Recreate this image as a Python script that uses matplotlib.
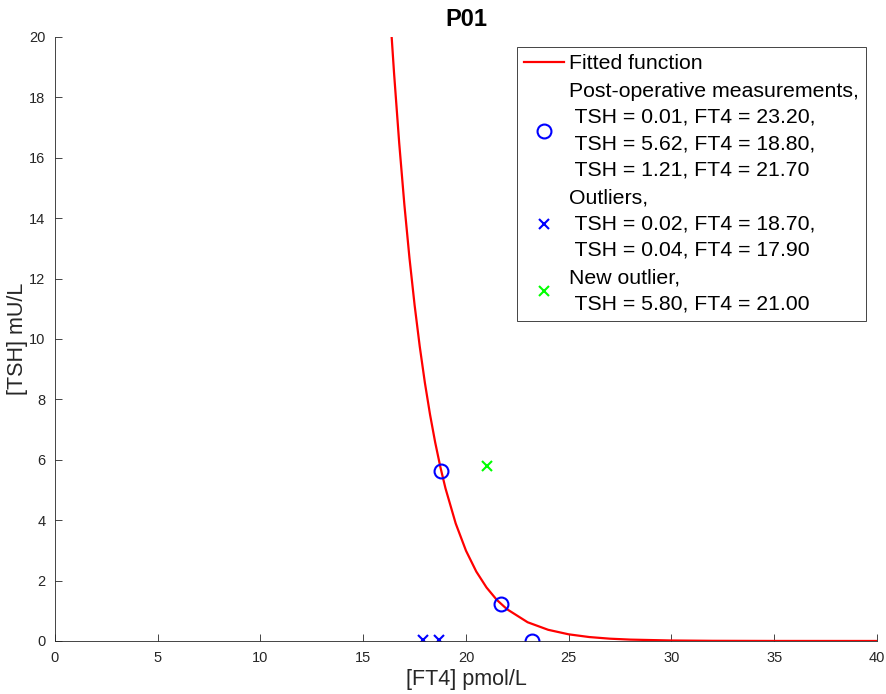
import matplotlib
matplotlib.use("Agg")
import matplotlib.pyplot as plt

plt.rcParams['font.family'] = ['Liberation Sans', 'DejaVu Sans']

# fitted curve
fit_ft4 = [16.35, 16.5, 16.75, 17.0, 17.25, 17.5, 17.75, 18.0, 18.25, 18.5, 18.75,
           19.0, 19.5, 20.0, 20.5, 21.0, 21.5, 22.0, 23.0, 24.0, 25.0, 26.0, 27.0,
           28.0, 30.0, 32.0, 35.0, 40.0]
fit_tsh = [20.34, 18.80, 16.49, 14.46, 12.68, 11.12, 9.75, 8.55, 7.50, 6.58, 5.77,
           5.06, 3.89, 2.99, 2.30, 1.77, 1.36, 1.05, 0.62, 0.37, 0.22, 0.13, 0.076,
           0.045, 0.016, 0.0055, 0.0011, 0.0001]

# measurements
post_tsh = [0.01, 5.62, 1.21]
post_ft4 = [23.20, 18.80, 21.70]
out_tsh = [0.02, 0.04]
out_ft4 = [18.70, 17.90]
new_tsh = [5.80]
new_ft4 = [21.00]

def make_label(title, tsh, ft4):
    rows = [" TSH = %.2f, FT4 = %.2f" % (t, f) for t, f in zip(tsh, ft4)]
    return title + ",\n" + ",\n".join(rows)

fig = plt.figure(figsize=(8.87, 6.94), dpi=100)
ax = fig.add_axes([0.062, 0.0764, 0.9267, 0.8703])

ax.plot(fit_ft4, fit_tsh, color='red', lw=1.6, label='Fitted function')
ax.plot(post_ft4, post_tsh, 'o', mfc='none', mec='blue', mew=1.5, ms=10,
        label=make_label('Post-operative measurements', post_tsh, post_ft4))
ax.plot(out_ft4, out_tsh, 'x', color='blue', mew=1.5, ms=7.5,
        label=make_label('Outliers', out_tsh, out_ft4))
ax.plot(new_ft4, new_tsh, 'x', color='#00ff00', mew=1.5, ms=7.5,
        label=make_label('New outlier', new_tsh, new_ft4))

ax.set_xlim(0, 40)
ax.set_ylim(0, 20)
ax.set_xticks(range(0, 41, 5))
ax.set_yticks(range(0, 21, 2))
for s in ['top', 'right']:
    ax.spines[s].set_visible(False)
for s in ['left', 'bottom']:
    ax.spines[s].set_color('#262626')
    ax.spines[s].set_linewidth(0.6)
ax.tick_params(direction='in', length=5, width=0.6, colors='#262626',
               labelsize=10.5, labelcolor='#262626')
ax.tick_params(axis='x', pad=7)
ax.tick_params(axis='y', pad=7)

ax.set_xlabel('[FT4] pmol/L', fontsize=15.5, color='#262626', labelpad=3)
ax.set_ylabel('[TSH] mU/L', fontsize=15.5, color='#262626', labelpad=1)
ax.set_title('P01', fontsize=17, fontweight='bold', pad=8)

leg = ax.legend(loc='upper right', bbox_to_anchor=(0.9866, 0.984), fontsize=15.3,
                frameon=True, fancybox=False, framealpha=1, edgecolor='#262626',
                handlelength=1.9, handletextpad=0.2, borderpad=0.35,
                labelspacing=0.4, borderaxespad=0)
leg.get_frame().set_linewidth(0.6)
for t in leg.get_texts():
    t.set_linespacing(1.49)

fig.savefig('out.png', dpi=100)
